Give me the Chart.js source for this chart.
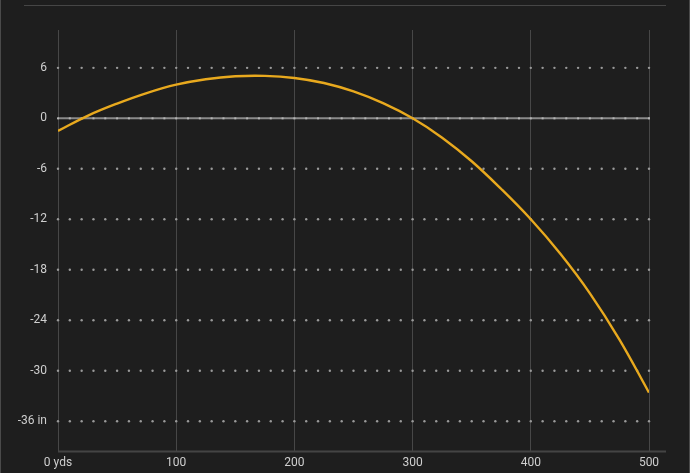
<!DOCTYPE html>
<html><head><meta charset="utf-8">
<script src="https://cdn.jsdelivr.net/npm/chart.js@4/dist/chart.umd.min.js"></script>
<style>html,body{margin:0;padding:0;background:#1e1e1e;overflow:hidden}</style>
</head><body>
<canvas id="c" width="690" height="473"></canvas>
<script>
// Data
const yards = [0,25,50,75,100,125,150,175,200,225,250,275,300,325,350,375,400,425,450,475,500];
const drop  = [-1.5,0.3,1.75,3.0,4.0,4.65,5.0,5.05,4.8,4.2,3.2,1.8,0.0,-2.3,-5.1,-8.4,-12.0,-16.1,-20.8,-26.3,-32.6];
const xTicks = [0,100,200,300,400,500];
const yTicks = [6,0,-6,-12,-18,-24,-30,-36];
const dotStepYds = 10;

const FONT = {family:'Roboto, "Noto Sans", sans-serif', size:12};
const LABEL = '#cfcfcf';
const GRID = '#474747';

const decor = {
  id:'decor',
  beforeDraw(chart){
    const {ctx, width, height} = chart;
    ctx.save();
    ctx.fillStyle = '#1e1e1e';
    ctx.fillRect(0,0,width,height);
    ctx.fillStyle = '#4a4a4a';
    ctx.fillRect(0,0,1,height);
    ctx.fillRect(width-1,0,1,height);
    ctx.fillStyle = '#464646';
    ctx.fillRect(24,5,642,1);
    ctx.restore();
  },
  beforeDatasetsDraw(chart){
    const {ctx, chartArea:a, scales:{x,y}} = chart;
    ctx.save();
    ctx.fillStyle = '#444444';
    ctx.fillRect(a.left, a.bottom-1, 666-a.left, 2);
    for (const t of yTicks){
      const py = y.getPixelForValue(t);
      if (t === 0){
        ctx.strokeStyle = '#8a8a8a';
        ctx.lineWidth = 2;
        ctx.beginPath(); ctx.moveTo(a.left, py); ctx.lineTo(a.right+1, py); ctx.stroke();
        ctx.fillStyle = '#b4b4b4';
        for (let v = x.min; v <= x.max; v += dotStepYds){
          const px = x.getPixelForValue(v);
          ctx.fillRect(px-1, py-1, 2, 2);
        }
      } else {
        ctx.fillStyle = '#9a9a9a';
        for (let v = x.min; v <= x.max; v += dotStepYds){
          const px = x.getPixelForValue(v);
          ctx.beginPath(); ctx.arc(px, py, 1.2, 0, Math.PI*2); ctx.fill();
        }
      }
    }
    ctx.restore();
  }
};

new Chart(document.getElementById('c'), {
  type:'line',
  data:{
    datasets:[{
      data: yards.map((v,i)=>({x:v, y:drop[i]})),
      borderColor:'#e8a91e',
      borderWidth:2.4,
      pointRadius:0,
      tension:0.4,
      fill:false
    }]
  },
  options:{
    responsive:false,
    animation:false,
    events:[],
    layout:{padding:{left:0, right:41, top:30, bottom:0}},
    plugins:{legend:{display:false}, tooltip:{enabled:false}},
    scales:{
      x:{
        type:'linear', min:0, max:500,
        afterBuildTicks(s){ s.ticks = xTicks.map(v=>({value:v})); },
        afterFit(s){ s.height = 21.5; },
        grid:{color:GRID, lineWidth:1, drawTicks:false},
        border:{display:false},
        ticks:{color:LABEL, font:FONT, padding:4, maxRotation:0,
          callback:(v)=> v===0 ? '0 yds' : String(v)}
      },
      y:{
        type:'linear', min:-39.6, max:10.5,
        afterBuildTicks(s){ s.ticks = yTicks.map(v=>({value:v})); },
        afterFit(s){ s.width = 58; },
        grid:{display:false, drawTicks:false},
        border:{display:true, color:GRID, width:1},
        ticks:{color:LABEL, font:FONT, padding:11,
          callback:(v)=> v===-36 ? '-36 in' : String(v)}
      }
    }
  },
  plugins:[decor]
});
</script>
</body></html>
